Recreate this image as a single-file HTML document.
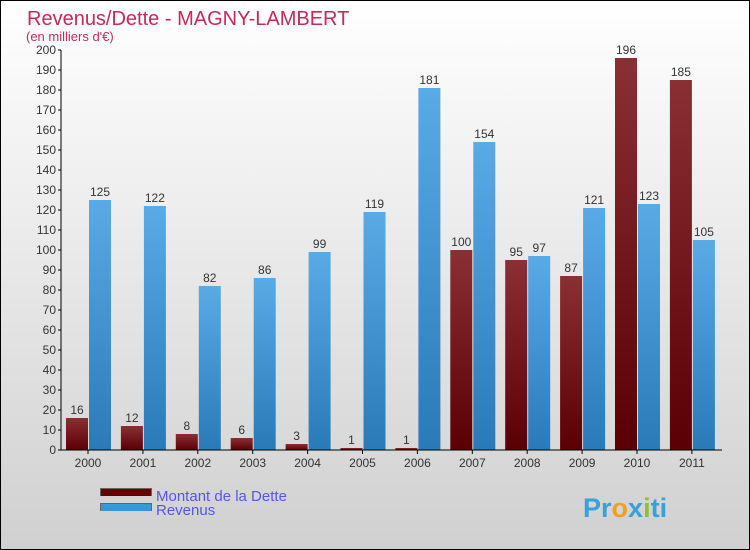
<!DOCTYPE html>
<html><head><meta charset="utf-8"><style>
body{margin:0;}
#wrap{width:750px;height:550px;position:relative;box-sizing:border-box;border:1px solid #000;background:linear-gradient(#fff,#d0d0d0);font-family:"Liberation Sans",sans-serif;overflow:hidden}
</style></head><body>
<div id="wrap">
<svg id="svg" width="748" height="548" xmlns="http://www.w3.org/2000/svg" style="position:absolute;left:0;top:0">
<defs>
<linearGradient id="gd" x1="0" y1="0" x2="0" y2="1"><stop offset="0" stop-color="#8a3035"/><stop offset="1" stop-color="#5a0005"/></linearGradient>
<linearGradient id="gr" x1="0" y1="0" x2="0" y2="1"><stop offset="0" stop-color="#5aaae6"/><stop offset="1" stop-color="#2a7ab8"/></linearGradient>
</defs>
<text x="26" y="24" font-size="20" fill="#c8285a">Revenus/Dette - MAGNY-LAMBERT</text>
<text x="25" y="40" font-size="13" fill="#c8285a">(en milliers d'€)</text>
<g id="plot"></g>
<rect x="99" y="487" width="52" height="8" fill="#666"/>
<rect x="100" y="488" width="50" height="7" fill="#660000"/>
<rect x="99" y="502" width="52" height="8" fill="#666"/>
<rect x="100" y="503" width="50" height="7" fill="#3399dd"/>
<text x="155" y="500" font-size="15" fill="#5555ee">Montant de la Dette</text>
<text x="155" y="514" font-size="15" fill="#5555ee">Revenus</text>
<text x="582" y="516" font-size="27" font-weight="bold"><tspan fill="#3aa0d8">Pr</tspan><tspan fill="#f0a020">o</tspan><tspan fill="#3aa0d8">x</tspan><tspan fill="#90c030">i</tspan><tspan fill="#3aa0d8">ti</tspan></text>
</svg>
</div>
<script>
const years=["2000","2001","2002","2003","2004","2005","2006","2007","2008","2009","2010","2011"];
const dette=[16,12,8,6,3,1,1,100,95,87,196,185];
const revenus=[125,122,82,86,99,119,181,154,97,121,123,105];
const yTicks=[0,10,20,30,40,50,60,70,80,90,100,110,120,130,140,150,160,170,180,190,200];
const NS="http://www.w3.org/2000/svg";
const g=document.getElementById('plot');
const y0=449,ppu=2,x0=60,xEnd=721,step=54.9,first=87;
function yS(v){return y0-v*ppu;}
function xS(i){return first+i*step;}
function mk(t,a){const e=document.createElementNS(NS,t);for(const k in a)e.setAttribute(k,a[k]);g.appendChild(e);return e;}
yTicks.forEach(v=>{
 const l=mk('line',{x1:x0-3,x2:x0,y1:yS(v),y2:yS(v),stroke:'#000'});
 
 
 const t=mk('text',{x:x0-5,y:yS(v)+4,'font-size':12,fill:'#333','text-anchor':'end'});
 t.textContent=v;
 
 
});
years.forEach((yr,i)=>{
 const c=xS(i);
 const bd=mk('rect',{x:c-22,y:yS(dette[i]),width:22,height:dette[i]*ppu,fill:'url(#gd)'});
 
 
 const br=mk('rect',{x:c+1,y:yS(revenus[i]),width:22,height:revenus[i]*ppu,fill:'url(#gr)'});
 
 
 const td=mk('text',{x:c-11,y:yS(dette[i])-4,'font-size':12,fill:'#333','text-anchor':'middle'});
 td.textContent=dette[i];
 
 
 const tr=mk('text',{x:c+12,y:yS(revenus[i])-4,'font-size':12,fill:'#333','text-anchor':'middle'});
 tr.textContent=revenus[i];
 
 
 const tk=mk('line',{x1:c,x2:c,y1:y0,y2:y0+4,stroke:'#000'});
 
 
 const tx=mk('text',{x:c,y:y0+17,'font-size':12,fill:'#333','text-anchor':'middle'});
 tx.textContent=yr;
 
 
});
const ya=mk('line',{x1:x0,x2:x0,y1:yS(200),y2:y0,stroke:'#000'});


const xa=mk('line',{x1:x0,x2:xEnd,y1:y0,y2:y0,stroke:'#000'});


</script>
</body></html>
